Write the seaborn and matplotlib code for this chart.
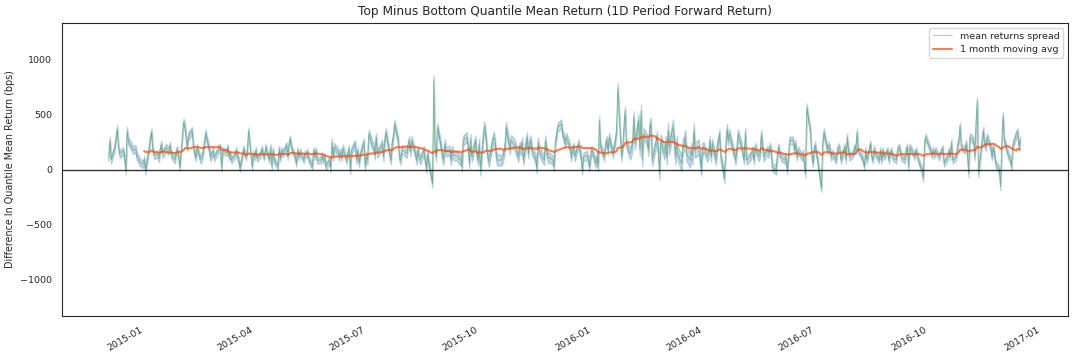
import matplotlib
matplotlib.use("Agg")
from matplotlib import pyplot as plt
import matplotlib.dates as mdates
import pandas as pd
import seaborn as sns
import numpy as np

# daily top-minus-bottom spread (bps), one list per ~quarter
spread_dec14_feb15 = [115, 265, 90, 200, 290, 370, 200, 140, 170, 100, -10, 355, 260, 200, 175, 185,
                      185, 120, 60, 55, 50, 90, -10, 200, 290, 340, 180, 130, 140, 100, 180, 230,
                      140, 200, 180, 170, 220, 140, 90, 160, 180, 110, 20, 430, 400, 300, 200, 300,
                      355, 220, 150, 110, 200, 90, 110, 160, 240, 330, 180, 110, 140, 170, 110, 170, 190]
spread_mar15_may15 = [204, 10, 175, 150, 204, 115, 145, 85, 130, 175, 115, 85, 10, 190, 145, 115,
                      175, 355, 25, 145, 115, 175, 100, 145, 190, 130, 115, 205, 85, 205, 25, 175,
                      85, 25, 190, 100, 175, 145, 220, 115, 235, 280, 200, 115, 55, 175, 115, 160,
                      85, 145, 130, 160, 100, 25, 175, 115, 175, 85, 85, 130, 85, 115, 25, 85,
                      10, 250, 115, 205, 160]
spread_jun15_aug15 = [115, 160, 115, 190, 85, 145, 190, -5, 175, 235, 85, 175, 55, 130, 250, 25,
                      115, 85, 325, 220, 205, 130, 295, 145, 205, 235, 115, 265, 340, 145, 85, 235,
                      295, 415, 265, 115, 85, 175, 175, 145, 220, 265, 160, 265, 145, 85, 175, 115,
                      85, 175, 85, 10, 145, 55, -125, 820, 205, 115, 385, 205, 115, 85, 235, 160,
                      175, 85, 175, 130]
spread_sep15_nov15 = [130, 115, 85, 100, 25, 265, 295, 205, 55, 280, 115, 265, 145, 85, 235, -5,
                      385, 355, 235, 115, 70, 265, 295, 235, 115, 85, 85, 100, 145, 205, 385, 190,
                      265, 250, 235, 220, 115, 205, 175, 250, 85, 295, 145, 235, 265, 175, 100, 10,
                      250, 175, 145, 85, 265, 175, 100, 115, 85, 25, 235, 310, 385, 415, 325, 295,
                      235, 295, 205, 115, 175]
spread_dec15_mar16 = [205, 115, 235, 175, 130, -5, 115, 130, 85, 25, 145, 175, 55, 115, 25, 445,
                      205, 115, 235, 265, 175, 295, 145, 205, 265, 355, 745, 115, 205, 385, 535, 235,
                      145, 175, 235, 475, 235, 445, 175, 535, 85, 325, 265, 175, 385, 415, 85, 235,
                      295, 175, -35, 265, 145, 235, 115, 355, 205, 385, 265, 115, 235, 145, 55, 205,
                      235, 295, 145, 85]
spread_mar16_jun16 = [175, 115, 355, 175, 205, 115, 10, 175, 205, 115, 145, 265, 115, 235, 85, 205,
                      265, 325, 115, -80, 205, 370, 265, 325, 175, 145, 85, 175, 325, 205, 145, 85,
                      340, 85, 115, 145, 175, 85, 205, 115, 145, 325, 205, 115, 175, 145, 205, 175,
                      25, -5, 115, 205, 145, 115, 85, 115, -5, 85, 265, 265, 175, 235, 115, 175,
                      115, 145, 55, -35, 565]
spread_jun16_sep16 = [350, 145, 55, 175, 220, -5, -95, -170, 235, 340, 175, 220, 175, 115, 145, 85,
                      175, 205, 175, 85, 205, 85, 295, 175, 115, 145, 205, 175, 340, 175, 115, 85,
                      25, 175, 85, 235, 115, 85, 190, 145, 85, 175, 85, 175, 115, 175, 85, 145,
                      175, 115, 85, 175, 205, 190, 115, 85, 175, 205, 25, 205, 145, 115, 175, 145,
                      85, -5, -80, 235, 295]
spread_oct16_dec16 = [265, 175, 130, 175, 130, 175, 115, 145, 175, 190, 55, 115, 175, 115, 250, 85,
                      115, 220, 265, 400, 205, 175, 235, 145, -35, 295, 265, 115, 415, 625, -35, 265,
                      355, 235, 205, 295, 205, 115, 205, 145, 55, -5, -155, 235, 490, 265, 145, 115,
                      85, 25, 220, 325, 340, 205, 265]

# standard error of the spread per month (bps)
err_months = ["2014-12", "2015-01", "2015-02", "2015-03", "2015-04", "2015-05", "2015-06",
              "2015-07", "2015-08", "2015-09", "2015-10", "2015-11", "2015-12", "2016-01",
              "2016-02", "2016-03", "2016-04", "2016-05", "2016-06", "2016-07", "2016-08",
              "2016-09", "2016-10", "2016-11", "2016-12"]
err_bps = [35, 35, 35, 30, 30, 30, 35, 40, 40, 45, 50, 45, 40, 40, 55, 70, 45, 40, 35, 35,
           30, 30, 30, 35, 35]

spread = (spread_dec14_feb15 + spread_mar15_may15 + spread_jun15_aug15 + spread_sep15_nov15
          + spread_dec15_mar16 + spread_mar16_jun16 + spread_jun16_sep16 + spread_oct16_dec16)

df = pd.DataFrame({"date": pd.bdate_range("2014-12-03", periods=len(spread)),
                   "spread": spread})
df["ma"] = df["spread"].rolling(window=22).mean()
err_map = dict(zip(pd.PeriodIndex(err_months, freq="M"), err_bps))
df["err"] = df["date"].dt.to_period("M").map(err_map).astype(float)

sns.set_style("white")
fig = plt.figure(figsize=(10.73, 3.6), dpi=100)
ax = fig.add_axes([0.0578, 0.1222, 0.9375, 0.8138])

sns.lineplot(data=df, x="date", y="spread", ax=ax, color="forestgreen", alpha=0.4, lw=0.7,
             label="mean returns spread")
sns.lineplot(data=df, x="date", y="ma", ax=ax, color="orangered", alpha=0.7, lw=1.5,
             label="1 month moving avg")
ax.fill_between(df["date"], df["spread"] - df["err"], df["spread"] + df["err"],
                alpha=0.3, color="steelblue")
ax.axhline(0.0, linestyle="-", color="black", lw=1, alpha=0.8)

ax.set_ylim(-1333, 1333)
ax.set_xlim(pd.Timestamp("2014-10-26"), pd.Timestamp("2017-01-23"))
ax.xaxis.set_major_locator(mdates.MonthLocator(bymonth=[1, 4, 7, 10]))
ax.xaxis.set_major_formatter(mdates.DateFormatter("%Y-%m"))
plt.setp(ax.get_xticklabels(), rotation=30, ha="right")
ax.tick_params(labelsize=6.8, colors=".15")

ax.set_xlabel("")
ax.set_ylabel("Difference In Quantile Mean Return (bps)", fontsize=6.9, color=".15")
ax.set_title("Top Minus Bottom Quantile Mean Return (1D Period Forward Return)", fontsize=8.7,
             color=".15")
ax.legend(loc="upper right", fontsize=6.8)

fig.savefig("out.png", dpi=100)
